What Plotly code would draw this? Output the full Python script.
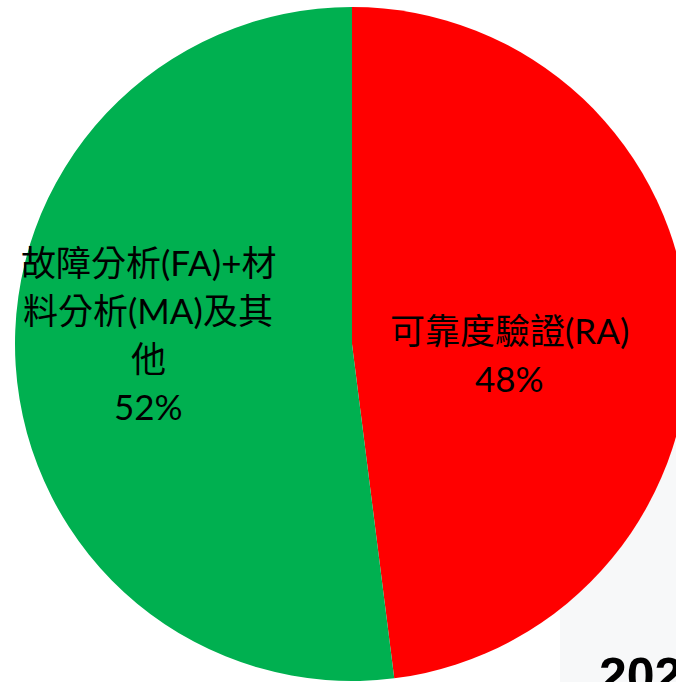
import plotly.graph_objects as go

# ---- data ----
labels = ["可靠度驗證(RA)", "故障分析(FA)+材料分析(MA)及其他"]
values = [48, 52]
colors = ["#FF0000", "#00B050"]
# how each label is wrapped on the chart (display lines)
label_lines = [["可靠度驗證(RA)"], ["故障分析(FA)+材", "料分析(MA)及其", "他"]]
corner_text = "2023"

W, H = 704, 682
FONT = "Lato, 'Noto Sans CJK TC', sans-serif"

fig = go.Figure()
fig.add_trace(go.Pie(
    labels=labels,
    values=values,
    sort=False,
    direction="clockwise",
    rotation=0,
    marker=dict(colors=colors, line=dict(width=0)),
    textinfo="none",
    hoverinfo="label+percent",
    showlegend=False,
    domain=dict(x=[0, 1], y=[1 / H, 675 / H]),
))

def px(x, y):
    return x / W, 1 - y / H

annotations = []
# label anchor positions (pixels): (center x, first line y)
anchors = [(509, 330), (148, 262)]
line_gap = 48
for (cx, y0), lines, v in zip(anchors, label_lines, values):
    all_lines = lines + [f"{v}%"]
    for i, t in enumerate(all_lines):
        ax, ay = px(cx, y0 + i * line_gap)
        annotations.append(dict(
            x=ax, y=ay, xref="paper", yref="paper",
            text=t, showarrow=False, xanchor="center", yanchor="middle",
            font=dict(family=FONT, size=35, color="#000000"),
        ))

ax, ay = px(597, 646)
annotations.append(dict(
    x=ax, y=ay, xref="paper", yref="paper", text=f"<b>{corner_text}</b>",
    showarrow=False, xanchor="left", yanchor="top",
    font=dict(family="'Liberation Sans', Arial, sans-serif", size=50, color="#000000"),
))

shapes = [dict(
    type="rect", xref="paper", yref="paper",
    x0=560 / W, x1=1, y0=0, y1=1 - 440 / H,
    fillcolor="#f7f8f9", line=dict(width=0), layer="below",
)]

fig.update_layout(
    width=W, height=H,
    margin=dict(l=0, r=0, t=0, b=0),
    paper_bgcolor="#ffffff",
    plot_bgcolor="#ffffff",
    annotations=annotations,
    shapes=shapes,
)

fig.write_html(
    "out.html",
    config={"displayModeBar": False},
    post_script="document.body.style.margin='0';document.body.style.overflow='hidden';document.documentElement.style.overflow='hidden';",
)
